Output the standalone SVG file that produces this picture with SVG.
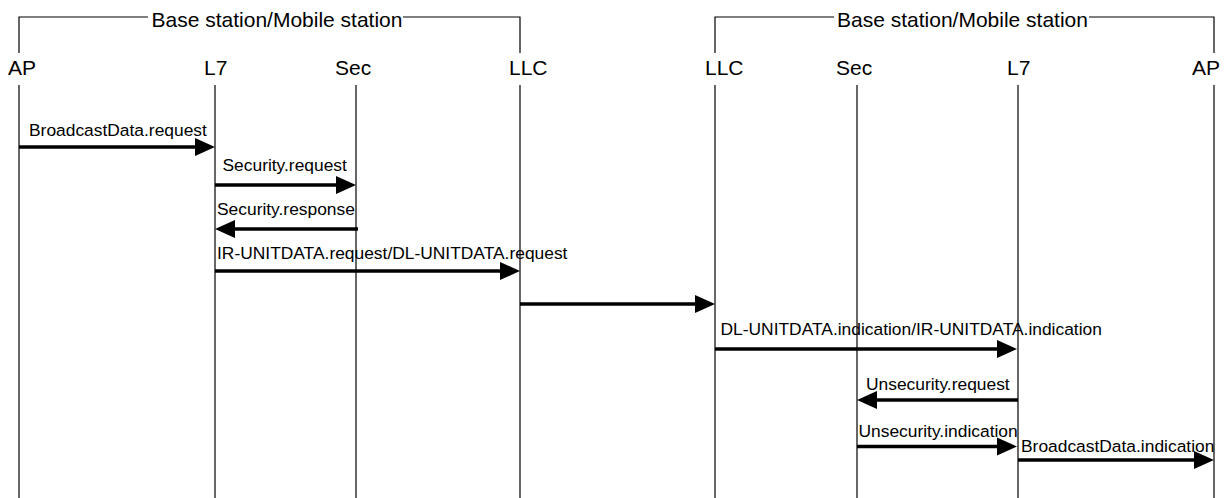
<svg xmlns="http://www.w3.org/2000/svg" width="1224" height="498" viewBox="0 0 1224 498">
<style>
  .life { stroke: #000; stroke-width: 1.2; fill: none; }
  .brk { stroke: #000; stroke-width: 1.2; fill: none; }
  .msg { stroke: #000; stroke-width: 3.5; fill: none; marker-end: url(#ah); }
  .hdr { font-family: "Liberation Sans", Arial, sans-serif; font-size: 21px; fill: #000; }
  .lbl { font-family: "Liberation Sans", Arial, sans-serif; font-size: 17.4px; fill: #000; }
</style>
<defs>
  <marker id="ah" markerUnits="userSpaceOnUse" markerWidth="20" markerHeight="18" refX="10" refY="9" orient="auto" overflow="visible">
    <path d="M0,0 L20,9 L0,18 Z" fill="#000"/>
  </marker>
</defs>
<rect width="1224" height="498" fill="#fff"/>

<g id="group-left">
  <path class="brk" d="M19,53 V17 H148 M403,17 H520 V53"/>
  <text class="hdr" x="151.5" y="27">Base station/Mobile station</text>
</g>
<g id="group-right">
  <path class="brk" d="M715,53 V17 H834 M1089,17 H1214 V53"/>
  <text class="hdr" x="837" y="27">Base station/Mobile station</text>
</g>

<g id="AP1"><text class="hdr" x="8" y="75">AP</text><line class="life" x1="19" y1="85" x2="19" y2="498"/></g>
<g id="L7-1"><text class="hdr" x="204" y="75">L7</text><line class="life" x1="215" y1="85" x2="215" y2="498"/></g>
<g id="Sec1"><text class="hdr" x="335" y="75">Sec</text><line class="life" x1="356" y1="85" x2="356" y2="498"/></g>
<g id="LLC1"><text class="hdr" x="509" y="75">LLC</text><line class="life" x1="520" y1="85" x2="520" y2="498"/></g>
<g id="LLC2"><text class="hdr" x="705" y="75">LLC</text><line class="life" x1="715" y1="85" x2="715" y2="498"/></g>
<g id="Sec2"><text class="hdr" x="836" y="75">Sec</text><line class="life" x1="857" y1="85" x2="857" y2="498"/></g>
<g id="L7-2"><text class="hdr" x="1007" y="75">L7</text><line class="life" x1="1018" y1="85" x2="1018" y2="498"/></g>
<g id="AP2"><text class="hdr" x="1192" y="75">AP</text><line class="life" x1="1214" y1="85" x2="1214" y2="498"/></g>

<g id="connectors">
  <line class="msg" x1="19" y1="147" x2="205" y2="147"/>
  <line class="msg" x1="215" y1="185" x2="346" y2="185"/>
  <line class="msg" x1="358" y1="229" x2="225" y2="229"/>
  <line class="msg" x1="215" y1="271" x2="510" y2="271"/>
  <line class="msg" x1="520" y1="304" x2="705" y2="304"/>
  <line class="msg" x1="715" y1="349" x2="1007" y2="349"/>
  <line class="msg" x1="1018" y1="400" x2="867" y2="400"/>
  <line class="msg" x1="857" y1="446.5" x2="1007" y2="446.5"/>
  <line class="msg" x1="1018" y1="460" x2="1204" y2="460"/>
</g>

<g id="labels">
  <text class="lbl" x="29" y="136">BroadcastData.request</text>
  <text class="lbl" x="222.5" y="171">Security.request</text>
  <text class="lbl" x="217" y="215">Security.response</text>
  <text class="lbl" x="217" y="258.5">IR-UNITDATA.request/DL-UNITDATA.request</text>
  <text class="lbl" x="720.5" y="335">DL-UNITDATA.indication/IR-UNITDATA.indication</text>
  <text class="lbl" x="866" y="390">Unsecurity.request</text>
  <text class="lbl" x="858.5" y="436.5">Unsecurity.indication</text>
  <text class="lbl" x="1021" y="451.5">BroadcastData.indication</text>
</g>
</svg>
